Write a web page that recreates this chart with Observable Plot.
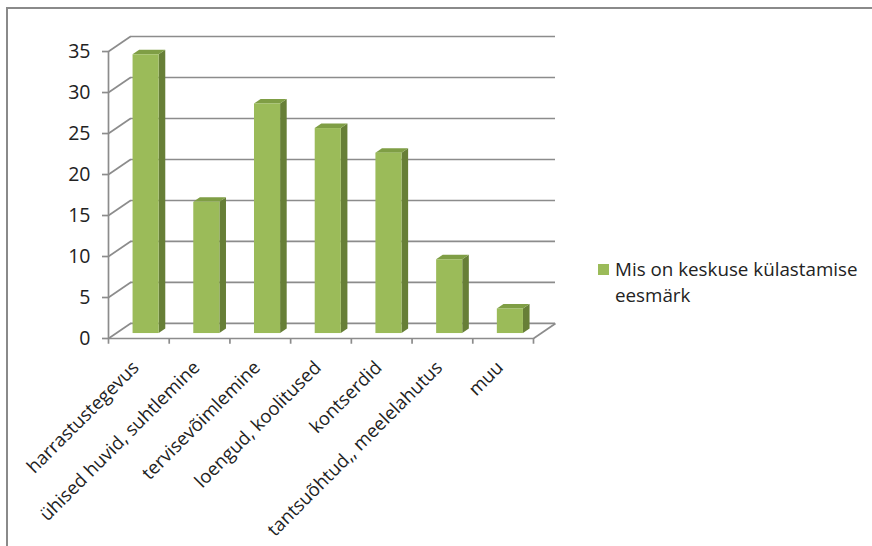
<!DOCTYPE html>
<html>
<head>
<meta charset="utf-8">
<script src="https://cdn.jsdelivr.net/npm/d3@7"></script>
<script src="https://cdn.jsdelivr.net/npm/@observablehq/plot@0.6"></script>
<style>
  html, body { margin: 0; padding: 0; background: #fff; }
  #wrap { position: relative; width: 872px; height: 546px; overflow: hidden; font-family: "Open Sans", sans-serif; }
  #frame { position: absolute; left: 6px; top: 7px; width: 1000px; height: 700px; border-left: 2px solid #8a8a8a; border-top: 2px solid #8a8a8a; box-sizing: border-box; }
  #chart { position: absolute; left: 0; top: 0; }
  #legend { position: absolute; left: 598px; top: 256px; font-size: 18.8px; line-height: 26px; color: #222; }
  #legend .sw { position: absolute; left: 0; top: 8px; width: 11px; height: 11px; background: #9bbb59; }
  #legend .tx { margin-left: 17px; white-space: nowrap; }
</style>
</head>
<body>
<div id="wrap">
  <div id="frame"></div>
  <div id="chart"></div>
  <div id="legend"></div>
</div>
<script>
// ---- data ----
const categories = [
  "harrastustegevus",
  "ühised huvid, suhtlemine",
  "tervisevõimlemine",
  "loengud, koolitused",
  "kontserdid",
  "tantsuõhtud,, meelelahutus",
  "muu"
];
const values = [34, 16, 28, 25, 22, 9, 3];
const yTicks = [0, 5, 10, 15, 20, 25, 30, 35];
const seriesName = "Mis on keskuse külastamise eesmärk";

// ---- 3D layout parameters (in scale units) ----
const DX = 0.3625;   // depth offset along x
const DY = 1.834;    // depth offset along y
const OFF = 0.285;   // bar offset inside category
const BW = 0.43;     // bar width
const D1 = 0.33, D2 = 0.63; // bar front/back depth fractions
const n = categories.length;
const yMax = yTicks[yTicks.length - 1];

const gridColor = "#8c8c8c";
const frontColor = "#9bbb59";
const sideColor = "#677f37";
const topColor = "#7f9e45";

const bars = values.map((v, i) => ({ i, v, name: categories[i] }));
const side = bars.flatMap(b => {
  const xr = b.i + OFF + BW;
  return [
    { i: b.i, x: xr + D1 * DX, y1: D1 * DY, y2: b.v + D1 * DY },
    { i: b.i, x: xr + D2 * DX, y1: D2 * DY, y2: b.v + D2 * DY }
  ];
});
const topFace = bars.flatMap(b => {
  const xl = b.i + OFF, xr = xl + BW, yF = b.v + D1 * DY, yB = b.v + D2 * DY;
  return [
    { i: b.i, x: xl + D1 * DX, y1: yF, y2: yF },
    { i: b.i, x: xl + D2 * DX, y1: yF, y2: yB },
    { i: b.i, x: xr + D1 * DX, y1: yF, y2: yB },
    { i: b.i, x: xr + D2 * DX, y1: yB, y2: yB }
  ];
});
const bounds = d3.range(n + 1);

const chart = Plot.plot({
  width: 872,
  height: 546,
  marginLeft: 108,
  marginRight: 317,
  marginTop: 36,
  marginBottom: 208,
  style: { fontFamily: "Open Sans, sans-serif", fontSize: "18.5px", color: "#222", background: "transparent", overflow: "visible" },
  x: { type: "linear", domain: [0, n + DX], axis: null },
  y: { type: "linear", domain: [0, yMax + DY], axis: null },
  marks: [
    // back wall gridlines
    Plot.ruleY(yTicks, { y: d => d + DY, x1: () => DX, x2: () => n + DX, stroke: gridColor, strokeWidth: 1.7 }),
    // left wall diagonals
    Plot.link(yTicks, { x1: () => 0, y1: d => d, x2: () => DX, y2: d => d + DY, stroke: gridColor, strokeWidth: 1.7 }),
    // floor right edge
    Plot.link([n], { x1: d => d, y1: () => 0, x2: d => d + DX, y2: () => DY, stroke: gridColor, strokeWidth: 1.7 }),
    // floor front edge (x axis line)
    Plot.ruleY([0], { x1: () => 0, x2: () => n, stroke: gridColor, strokeWidth: 1.7 }),
    // front y axis line
    Plot.ruleX([0], { y1: () => 0, y2: () => yMax, stroke: gridColor, strokeWidth: 1.7 }),
    // x tick marks
    Plot.ruleX(bounds, { x: d => d, y1: () => 0, y2: () => -0.7, stroke: gridColor, strokeWidth: 1.7 }),
    // bars: side, top, front
    Plot.areaY(side, { x: "x", y1: "y1", y2: "y2", z: "i", fill: sideColor, curve: "linear" }),
    Plot.areaY(topFace, { x: "x", y1: "y1", y2: "y2", z: "i", fill: topColor, curve: "linear" }),
    Plot.rect(bars, {
      x1: d => d.i + OFF + D1 * DX,
      x2: d => d.i + OFF + BW + D1 * DX,
      y1: () => D1 * DY,
      y2: d => d.v + D1 * DY,
      fill: frontColor
    }),
    // y axis ticks + labels
    Plot.axisY({ ticks: yTicks, tickSize: 6, tickPadding: 12, stroke: gridColor, strokeWidth: 1.7, fill: "#222", fontSize: 19.5 }),
    // category labels
    Plot.text(bars, {
      x: d => d.i + 0.5,
      y: () => 0,
      text: "name",
      rotate: -45,
      textAnchor: "end",
      dx: -3,
      dy: 26,
      fill: "#222",
      fontSize: 18.5
    })
  ]
});
document.getElementById("chart").appendChild(chart);

// legend
const words = seriesName.split(" ");
const line1 = words.slice(0, -1).join(" ");
const line2 = words[words.length - 1];
const legend = document.getElementById("legend");
legend.innerHTML = `<div class="sw"></div><div class="tx">${line1}</div><div class="tx">${line2}</div>`;
</script>
</body>
</html>
